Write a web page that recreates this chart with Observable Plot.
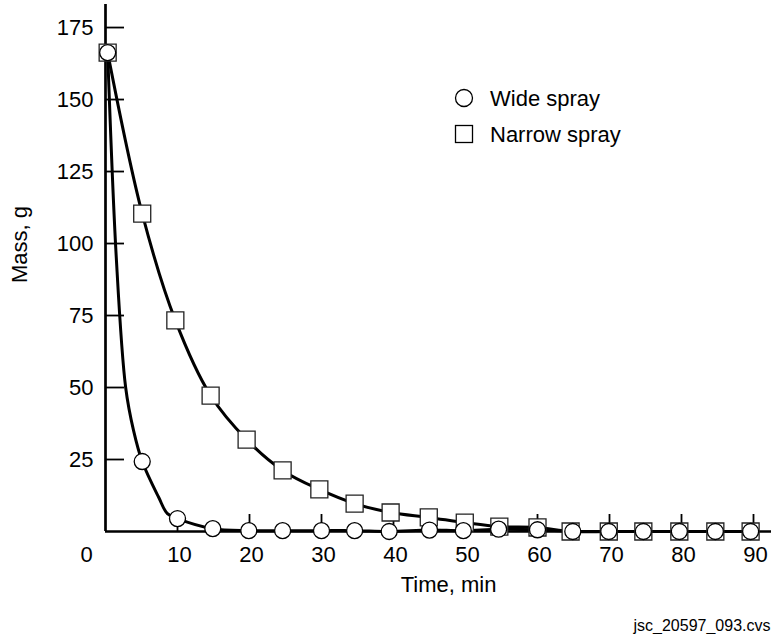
<!DOCTYPE html>
<html>
<head>
<meta charset="utf-8">
<script src="https://cdn.jsdelivr.net/npm/d3@7"></script>
<script src="https://cdn.jsdelivr.net/npm/@observablehq/plot@0.6"></script>
<style>
  html, body { margin: 0; padding: 0; background: #fff; }
</style>
</head>
<body>
<div id="chart"></div>
<script>
// ---- Data ----
const wideTime   = [0.3, 5.1, 10, 14.9, 19.9, 24.6, 30, 34.6, 39.4, 45, 49.7, 54.6, 60, 64.9, 69.9, 74.7, 79.7, 84.7, 89.6];
const wideMass   = [166.3, 24.3, 4.5, 1.0, 0.3, 0.3, 0.3, 0.3, 0.0, 0.5, 0.3, 0.8, 0.6, 0, 0, 0, 0, 0, 0];
const narrowTime = [0.3, 5.1, 9.7, 14.6, 19.6, 24.6, 29.7, 34.6, 39.6, 44.9, 49.9, 54.7, 60, 64.6, 69.9, 74.7, 79.7, 84.7, 89.6];
const narrowMass = [166.3, 110.4, 73.3, 47.2, 31.9, 21.2, 14.6, 9.7, 6.6, 4.9, 3.1, 1.7, 1.4, 0, 0, 0, 0, 0, 0];
// extra points (steep part)
const wideCurveTime = [0.3, 1.5, 2.8, 3.9, 5.1, 7.4, 8.6, 10, 14.9, 19.9, 24.6, 30, 34.6, 39.4, 45, 49.7, 54.6, 60, 64.9, 69.9, 74.7, 79.7, 84.7, 89.6];
const wideCurveMass = [166.3, 95, 50, 35, 24.3, 11.8, 6.2, 4.5, 1.0, 0.3, 0.3, 0.3, 0.3, 0.0, 0.5, 0.3, 0.8, 0.6, 0, 0, 0, 0, 0, 0];

const xTicks = [10, 20, 30, 40, 50, 60, 70, 80, 90];
const yTicks = [25, 50, 75, 100, 125, 150, 175];
const seriesNames = ["Wide spray", "Narrow spray"];
const xLabel = "Time, min";
const yLabel = "Mass, g";
const caption = "jsc_20597_093.cvs";

const wide = wideTime.map((t, i) => ({t, m: wideMass[i]}));
const narrow = narrowTime.map((t, i) => ({t, m: narrowMass[i]}));
const wideCurve = wideCurveTime.map((t, i) => ({t, m: wideCurveMass[i]}));

const font = "'Liberation Sans', Arial, Helvetica, sans-serif";
const W = 771, H = 634, ML = 105, MR = 0, MT = 4, MB = 103;
const frameW = W - ML - MR, frameH = H - MT - MB;

const chart = Plot.plot({
  width: W,
  height: H,
  marginLeft: ML,
  marginRight: MR,
  marginTop: MT,
  marginBottom: MB,
  x: {domain: [0, 92.5], axis: null},
  y: {domain: [0, 183], axis: null},
  marks: [
    // inward tick marks (rules inset so they only reach a short way into the frame)
    Plot.ruleY(yTicks, {insetRight: frameW - 19, stroke: "black", strokeWidth: 1.8}),
    Plot.ruleX(xTicks, {insetTop: frameH - 17, stroke: "black", strokeWidth: 1.8}),
    // axis lines
    Plot.ruleX([0], {stroke: "black", strokeWidth: 2.7}),
    Plot.ruleY([0], {stroke: "black", strokeWidth: 2.7}),
    // tick labels
    Plot.axisY({ticks: yTicks, tickSize: 0, tickPadding: 12, fontSize: 22, fontFamily: font, label: null}),
    Plot.axisX({ticks: xTicks, tickSize: 0, tickPadding: 15, fontSize: 22, fontFamily: font, dx: 2, label: null}),
    Plot.axisX({ticks: [0], tickSize: 0, tickPadding: 15, fontSize: 22, fontFamily: font, dx: -19, label: null}),
    // axis titles and caption
    Plot.text([xLabel], {frameAnchor: "bottom", dx: 10, dy: 60, fontSize: 22, fontFamily: font, text: d => d}),
    Plot.text([yLabel], {frameAnchor: "left", rotate: -90, dx: -86, dy: 15, fontSize: 22, fontFamily: font, text: d => d}),
    Plot.text([caption], {frameAnchor: "bottom-right", textAnchor: "end", lineAnchor: "bottom", dx: -1, dy: 99, fontSize: 16, fontFamily: font, text: d => d}),
    // curves
    Plot.line(narrow, {x: "t", y: "m", curve: "catmull-rom", stroke: "black", strokeWidth: 3}),
    Plot.line(wideCurve, {x: "t", y: "m", curve: "catmull-rom", stroke: "black", strokeWidth: 3}),
    // markers
    Plot.dot(narrow, {x: "t", y: "m", symbol: "square", r: 9.6, fill: "white", stroke: "#222", strokeWidth: 1.3}),
    Plot.dot(wide, {x: "t", y: "m", symbol: "circle", r: 8, fill: "white", stroke: "black", strokeWidth: 1.3})
  ]
});

// legend
const svg = d3.select(chart);
const lg = svg.append("g").attr("font-family", font).attr("font-size", 22).attr("text-anchor", "start");
lg.append("circle").attr("cx", 464).attr("cy", 98).attr("r", 8.5)
  .attr("fill", "#fff").attr("stroke", "#000").attr("stroke-width", 1.3);
lg.append("rect").attr("x", 455.5).attr("y", 125.5).attr("width", 17).attr("height", 17)
  .attr("fill", "#fff").attr("stroke", "#000").attr("stroke-width", 1.3);
lg.append("text").attr("x", 490).attr("y", 98).attr("dy", "0.35em").attr("text-anchor", "start").text(seriesNames[0]);
lg.append("text").attr("x", 490).attr("y", 134).attr("dy", "0.35em").attr("text-anchor", "start").text(seriesNames[1]);

document.getElementById("chart").appendChild(chart);
</script>
</body>
</html>
